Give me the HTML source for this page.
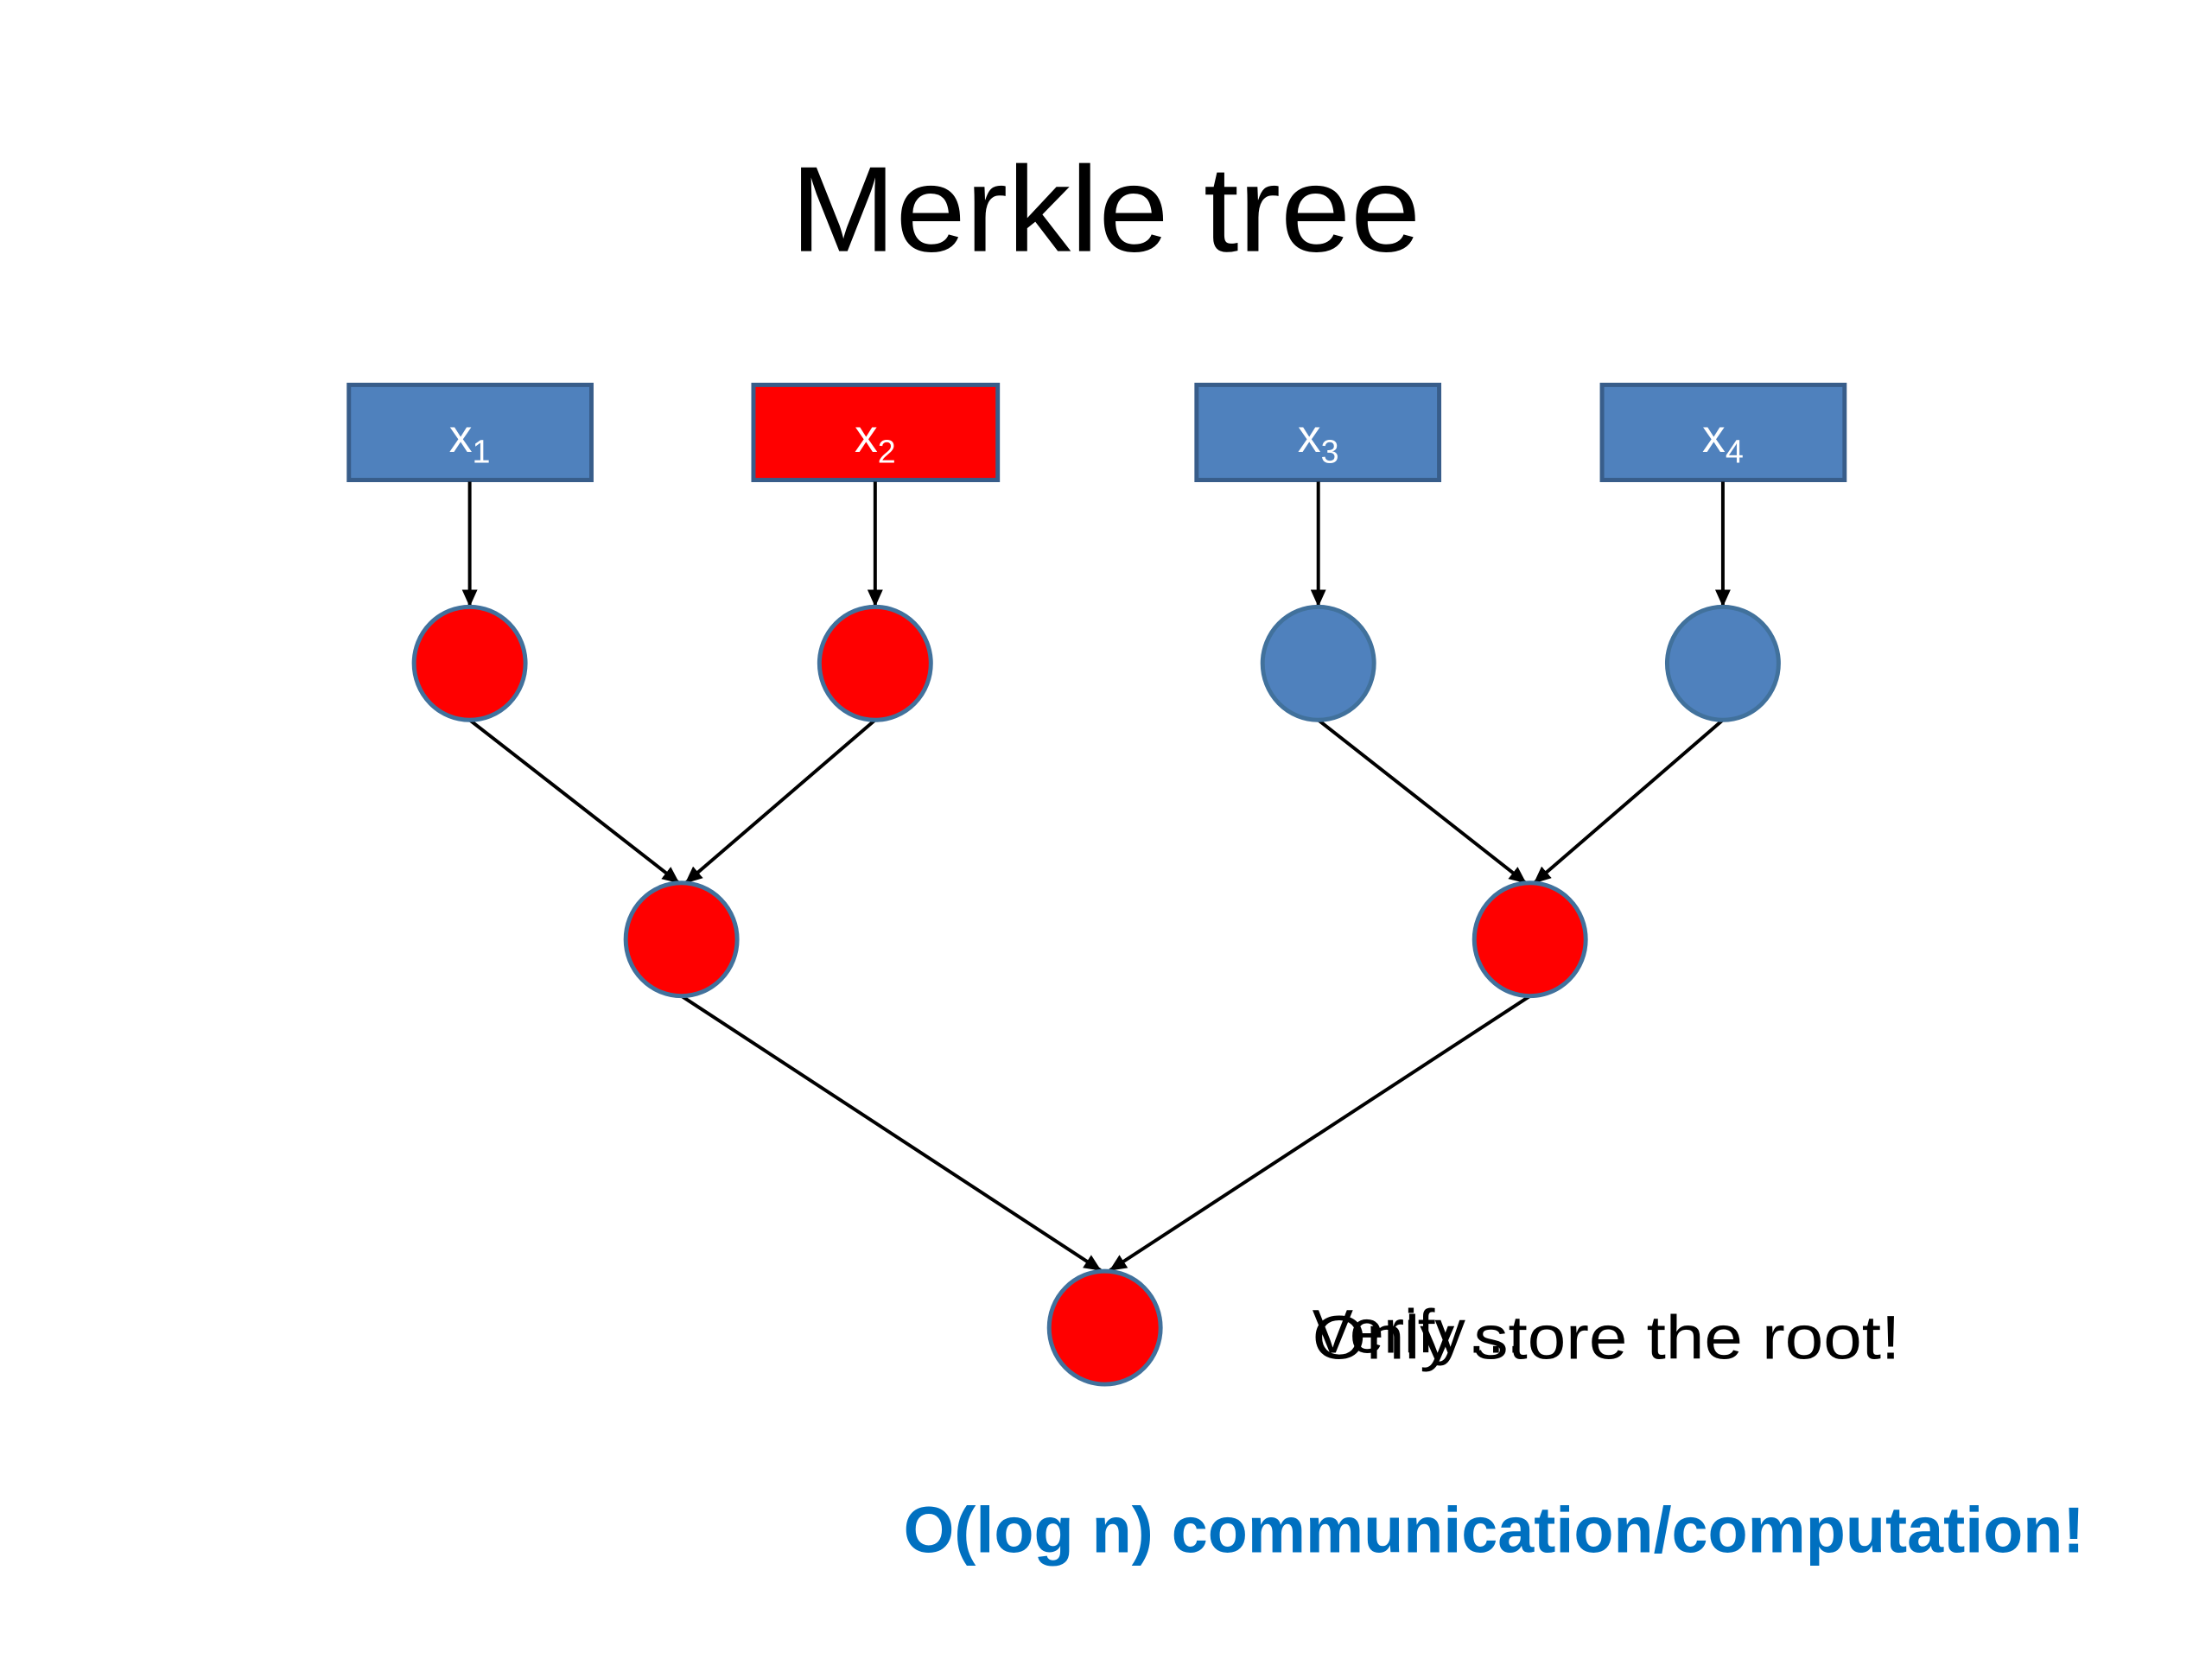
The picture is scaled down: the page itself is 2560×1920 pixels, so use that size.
<!DOCTYPE html>
<html><head><meta charset="utf-8"><style>html,body{margin:0;padding:0;background:#fff}svg{display:block}</style></head>
<body>
<svg width="2560" height="1920" viewBox="0 0 2560 1920" xmlns="http://www.w3.org/2000/svg">
<defs>
<marker id="a" markerWidth="20" markerHeight="18" refX="19" refY="9" orient="auto" markerUnits="userSpaceOnUse" viewBox="0 0 20 18">
<path d="M0,0 L20,9 L0,18 z" fill="#000"/>
</marker>
</defs>
<rect width="2560" height="1920" fill="#fff"/>
<g transform="scale(0.992)">
<text x="1290" y="293" font-family="Liberation Sans, sans-serif" font-size="142" text-anchor="middle" textLength="735" lengthAdjust="spacingAndGlyphs">Merkle tree</text>

<g stroke="#385D8A" stroke-width="5">
<rect x="407" y="449" width="283" height="111" fill="#4F81BD"/>
<rect x="879" y="449" width="285" height="111" fill="#FF0000"/>
<rect x="1396" y="449" width="283" height="111" fill="#4F81BD"/>
<rect x="1869" y="449" width="283" height="111" fill="#4F81BD"/>
</g>
<g font-family="Liberation Sans, sans-serif" font-size="54" fill="#fff" text-anchor="middle">
<text x="548" y="527">x<tspan font-size="38" dy="13">1</tspan></text>
<text x="1021" y="527">x<tspan font-size="38" dy="13">2</tspan></text>
<text x="1538" y="527">x<tspan font-size="38" dy="13">3</tspan></text>
<text x="2010" y="527">x<tspan font-size="38" dy="13">4</tspan></text>
</g>

<g stroke="#000" stroke-width="4" marker-end="url(#a)">
<line x1="548" y1="562" x2="548" y2="707"/>
<line x1="1021" y1="562" x2="1021" y2="707"/>
<line x1="1538" y1="562" x2="1538" y2="707"/>
<line x1="2010" y1="562" x2="2010" y2="707"/>
<line x1="548" y1="840" x2="792" y2="1030"/>
<line x1="1021" y1="840" x2="800" y2="1030"/>
<line x1="1538" y1="840" x2="1780" y2="1030"/>
<line x1="2010" y1="840" x2="1790" y2="1030"/>
<line x1="795" y1="1162" x2="1284" y2="1482"/>
<line x1="1785" y1="1162" x2="1295" y2="1482"/>
</g>

<g stroke="#41719C" stroke-width="5">
<ellipse cx="548" cy="774" rx="65" ry="66" fill="#FF0000"/>
<ellipse cx="1021" cy="774" rx="65" ry="66" fill="#FF0000"/>
<ellipse cx="1538" cy="774" rx="65" ry="66" fill="#4F81BD"/>
<ellipse cx="2010" cy="774" rx="65" ry="66" fill="#4F81BD"/>
<ellipse cx="795" cy="1096" rx="65" ry="66" fill="#FF0000"/>
<ellipse cx="1785" cy="1096" rx="65" ry="66" fill="#FF0000"/>
<ellipse cx="1289" cy="1549" rx="65" ry="66" fill="#FF0000"/>
</g>

<g font-family="Liberation Sans, sans-serif" font-size="72" fill="#000">
<text x="1531" y="1585" textLength="686" lengthAdjust="spacingAndGlyphs">Only store the root!</text>
<text x="1531" y="1578" textLength="250" lengthAdjust="spacingAndGlyphs">Verify…</text>
</g>
<text x="1054" y="1811" font-family="Liberation Sans, sans-serif" font-weight="bold" font-size="76" fill="#0070C0" textLength="1378" lengthAdjust="spacingAndGlyphs">O(log n) communication/computation!</text>
</g>
</svg>
</body></html>
